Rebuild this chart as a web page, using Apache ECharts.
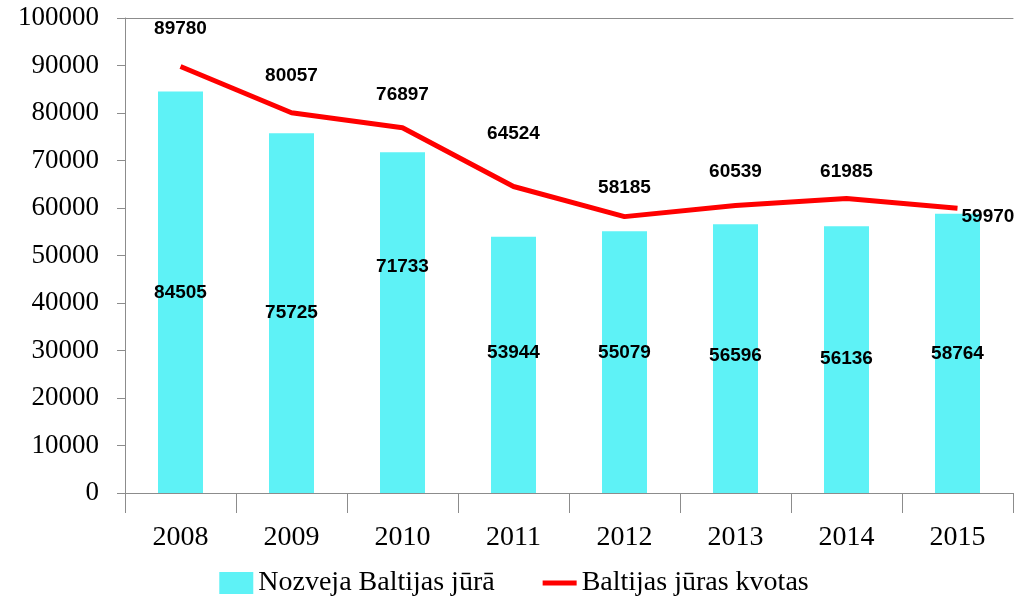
<!DOCTYPE html>
<html>
<head>
<meta charset="utf-8">
<script src="https://cdn.jsdelivr.net/npm/echarts@6/dist/echarts.min.js"></script>
<style>
  html, body { margin: 0; padding: 0; background: #fff; }
  #main { width: 1028px; height: 604px; }
</style>
</head>
<body>
<div id="main"></div>
<script>
// data
var years = ['2008', '2009', '2010', '2011', '2012', '2013', '2014', '2015'];
var catch_ = [84505, 75725, 71733, 53944, 55079, 56596, 56136, 58764];
var quota = [89780, 80057, 76897, 64524, 58185, 60539, 61985, 59970];

// label nudges (vertical, px) to mimic the hand-placed labels of the original
var barLabelShift = [0, 0, -56, -12, -9, -3, -1, 0];
var lineLabelShift = [-8, -7, -3, -23, 1, -4, 3, 9];

var myChart = echarts.init(document.getElementById('main'));

var serif = 'Liberation Serif';
var labelFont = 'Liberation Sans Narrow, Liberation Sans, Arial';

var catchData = catch_.map(function (v, i) {
    return { value: v, label: { offset: [0, barLabelShift[i]] } };
});

var quotaData = quota.map(function (v, i) {
    if (i === quota.length - 1) {
        return { value: v, label: { position: 'right', distance: 4, offset: [0, lineLabelShift[i]] } };
    }
    return { value: v, label: { offset: [0, lineLabelShift[i]] } };
});

var option = {
    animation: false,
    grid: { left: 125, right: 15, top: 18, bottom: 111 },
    legend: {
        bottom: 2,
        left: 'center',
        itemGap: 48,
        itemWidth: 34,
        itemHeight: 22,
        textStyle: { fontFamily: serif, fontSize: 28, color: '#000' },
        data: [
            { name: 'Nozveja Baltijas jūrā', icon: 'rect' },
            { name: 'Baltijas jūras kvotas', icon: 'path://M0 0H40V6H0Z' }
        ]
    },
    xAxis: [
        {
            type: 'category',
            data: years,
            axisLine: { lineStyle: { color: '#8c8c8c', width: 1 } },
            axisTick: { show: true, length: 20, lineStyle: { color: '#8c8c8c' } },
            axisLabel: { fontFamily: serif, fontSize: 28, color: '#000', margin: 31 }
        },
        {
            // top border line at 100000
            type: 'category',
            position: 'top',
            data: years,
            axisLine: { lineStyle: { color: '#8c8c8c', width: 1 } },
            axisTick: { show: false },
            axisLabel: { show: false }
        }
    ],
    yAxis: {
        type: 'value',
        min: 0,
        max: 100000,
        interval: 10000,
        axisLine: { show: true, lineStyle: { color: '#8c8c8c', width: 1 } },
        axisTick: { show: true, length: 8, lineStyle: { color: '#8c8c8c' } },
        splitLine: { show: false },
        axisLabel: {
            fontFamily: serif, fontSize: 27, color: '#000', margin: 26,
            formatter: function (v) { return String(v); }
        }
    },
    series: [
        {
            name: 'Nozveja Baltijas jūrā',
            type: 'bar',
            data: catchData,
            barWidth: 45,
            itemStyle: { color: '#5ef2f6' },
            label: {
                show: true,
                position: 'inside',
                fontFamily: labelFont,
                fontWeight: 'bold',
                fontSize: 19,
                color: '#000'
            }
        },
        {
            name: 'Baltijas jūras kvotas',
            type: 'line',
            data: quotaData,
            symbol: 'circle',
            symbolSize: 0.1,
            lineStyle: { color: '#ff0000', width: 5 },
            itemStyle: { color: '#ff0000' },
            label: {
                show: true,
                position: 'top',
                distance: 20,
                fontFamily: labelFont,
                fontWeight: 'bold',
                fontSize: 19,
                color: '#000'
            }
        }
    ]
};

myChart.setOption(option);
</script>
</body>
</html>
